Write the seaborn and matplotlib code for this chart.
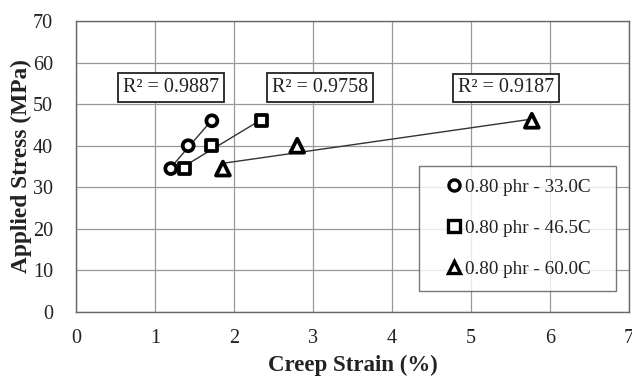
import numpy as np
import pandas as pd
import matplotlib
matplotlib.use("Agg")
import matplotlib.pyplot as plt
import seaborn as sns

series_names = ["0.80 phr - 33.0C", "0.80 phr - 46.5C", "0.80 phr - 60.0C"]
strain_33 = [1.20, 1.42, 1.72]
stress_33 = [34.5, 40.0, 46.0]
strain_46 = [1.37, 1.72, 2.35]
stress_46 = [34.5, 40.0, 46.0]
strain_60 = [1.86, 2.80, 5.77]
stress_60 = [34.5, 40.0, 46.0]
r2_labels = ["R² = 0.9887", "R² = 0.9758", "R² = 0.9187"]
r2_pos = [(1.20, 54.0), (3.09, 54.0), (5.44, 53.9)]
markers = ["o", "s", "^"]
marker_sizes = [62, 62, 100]

df = pd.DataFrame({
    "strain": strain_33 + strain_46 + strain_60,
    "stress": stress_33 + stress_46 + stress_60,
    "series": [series_names[0]] * 3 + [series_names[1]] * 3 + [series_names[2]] * 3,
})

sns.set_theme(style="white")
plt.rcParams["font.family"] = ["Liberation Serif", "DejaVu Serif"]

fig = plt.figure(figsize=(6.32, 3.77), dpi=100)
ax = fig.add_axes([76 / 632, 1 - 312 / 377, (629 - 76) / 632, (312 - 21) / 377])

# trend lines
for xs, ys in [(strain_33, stress_33), (strain_46, stress_46), (strain_60, stress_60)]:
    m, b = np.polyfit(xs, ys, 1)
    xx = np.array([min(xs), max(xs)])
    ax.plot(xx, m * xx + b, color="#333333", lw=1.0, zorder=2)

sns.scatterplot(data=df, x="strain", y="stress", style="series", markers=dict(zip(series_names, markers)),
                hue="series", palette=["white"] * 3, size="series",
                sizes=dict(zip(series_names, marker_sizes)),
                edgecolor="black", linewidth=2.7,
                ax=ax, zorder=3, legend=True)

ax.set_xlim(0, 7)
ax.set_ylim(0, 70)
ax.set_xticks(range(0, 8))
ax.set_yticks(range(0, 80, 10))
ax.grid(True, color="#999999", lw=0.9)
ax.set_axisbelow(True)
for s in ax.spines.values():
    s.set_color("#666666")
    s.set_linewidth(1.0)
ax.tick_params(axis="both", labelsize=14.5, length=0, colors="#222222")
ax.tick_params(axis="x", pad=12)
ax.tick_params(axis="y", pad=16.5)
ax.set_xlabel("Creep Strain (%)", fontsize=16.5, fontweight="bold", labelpad=5.5, color="#222222")
ax.set_ylabel("Applied Stress (MPa)", fontsize=16.8, fontweight="bold", labelpad=0.5, color="#222222")

for lab, (x, y) in zip(r2_labels, r2_pos):
    ax.text(x, y, lab, ha="center", va="center", fontsize=14.5, color="#222222",
            bbox=dict(boxstyle="square,pad=0.24", fc="white", ec="#222222", lw=1.3), zorder=4)

handles, labels = ax.get_legend_handles_labels()
for h in handles:
    h.set_markersize(8)
    h.set_markeredgewidth(2.4)
    h.set_markerfacecolor("white")
    h.set_markeredgecolor("black")
leg = ax.legend(handles, labels, loc="lower left", bbox_to_anchor=(0.620, 0.0722, 0.3565, 0.3),
                mode="expand", frameon=True,
                fontsize=13.8, handletextpad=-0.57, handlelength=2.3, labelspacing=1.23,
                borderpad=0.67, borderaxespad=0, fancybox=False)
leg.get_frame().set_edgecolor("#555555")
leg.get_frame().set_linewidth(1.0)
for t in leg.get_texts():
    t.set_color("#222222")

fig.savefig("out.png", dpi=100)
